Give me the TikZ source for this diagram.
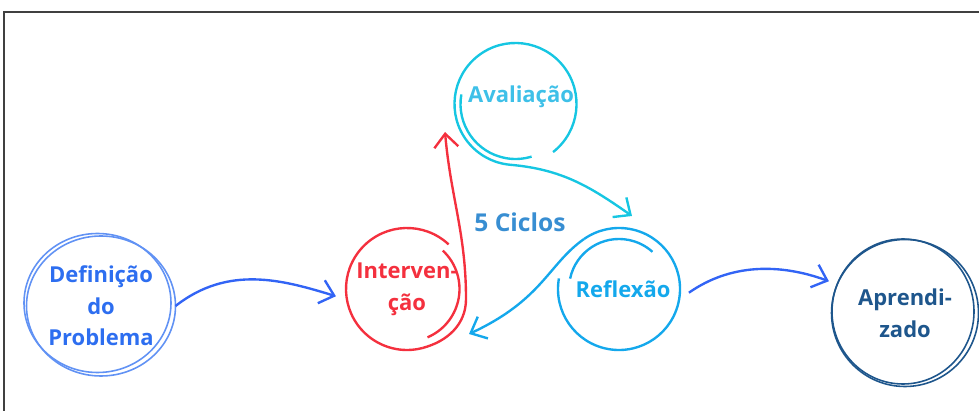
\documentclass[tikz,border=0pt]{standalone}
\usepackage{fontspec}
\setsansfont{Open Sans}
\usepackage{tikz}
\usetikzlibrary{positioning, arrows.meta, shapes.geometric}

\definecolor{azul}{RGB}{45,110,240}
\definecolor{azulseta}{RGB}{50,100,245}
\definecolor{vermelho}{RGB}{244,48,62}
\definecolor{ciano}{RGB}{22,198,226}
\definecolor{cianotexto}{RGB}{62,192,232}
\definecolor{celeste}{RGB}{20,168,236}
\definecolor{azulciclos}{RGB}{56,142,210}
\definecolor{azulescuro}{RGB}{30,86,140}

\begin{document}
\begin{tikzpicture}[
			on grid,
			line width=1.35pt,
			etapa/.style = {circle, minimum size=2.44cm, inner sep=0pt, outer sep=0pt, align=center,
				font=\sffamily\bfseries\fontsize{12.5}{18}\selectfont},
			seta/.style = {-{Straight Barb[length=2.7mm, width=4.8mm]}, line width=1.35pt},
			moldura/.style = {draw=black!75, line width=1.4pt}
		]
		\useasboundingbox (0,0) rectangle (19.58,8.2);
		\draw[moldura] (0.08,-0.5) -- (0.08,7.96) -- (20,7.96);
		\node[etapa, ellipse, draw=azul!75, line width=0.9pt, minimum width=2.96cm, minimum height=2.8cm, text=azul] (def) at (2.02,2.08) {Definição\\do\\Problema};
		\node[etapa, text=vermelho] (int) [above right=3.4mm and 61.2mm of def] {Interven-\\ção};
		\node[etapa, text=cianotexto] (ava) [above right=37mm and 21.7mm of int] {\raisebox{4mm}{\hspace{2.2mm}Avaliação}};
		\node[etapa, text=celeste] (ref) [right=42.4mm of int] {\hspace{1.6mm}Reflexão};
		\node[etapa, minimum size=2.94cm, draw=azulescuro, line width=0.9pt, text=azulescuro] (apr) [below right=4.8mm and 57.2mm of ref] {Aprendi-\\zado};
		\node[font=\sffamily\bfseries\fontsize{14}{16}\selectfont, text=azulciclos] (ciclos) [above right=13.4mm and 22.6mm of int] {5 Ciclos};
		% Draw the second strokes of the outer circles.
		\draw[azul!75, line width=0.9pt] ([shift={(-0.07,0.06)}]def.center) ellipse [x radius=1.47cm, y radius=1.39cm];
		\draw[azulescuro, line width=0.9pt] ([shift={(-0.04,0.03)}]apr.center) ellipse [x radius=1.42cm, y radius=1.45cm];
		% Draw the spirals of the cycle.
		\draw[vermelho] (int.47) arc [start angle=47, end angle=285, radius=1.22cm];
		\draw[vermelho] ([shift={(47:1.05cm)}]int.center) arc [start angle=47, end angle=-67, radius=1.05cm];
		\draw[ciano] (ava.-52) arc [start angle=-52, end angle=265, radius=1.22cm];
		\draw[ciano] ([shift={(170:1.1cm)}]ava.center) arc [start angle=170, end angle=287, radius=1.1cm];
		\draw[celeste] (ref.170) arc [start angle=170, end angle=485, radius=1.22cm];
		\draw[celeste] ([shift={(168:1cm)}]ref.center) arc [start angle=168, end angle=48, radius=1cm];
		% Draw the arrows.
		\draw[seta, azulseta, shorten >=2.3mm] (def.east) to [out=38, in=163] (int.190);
		\draw[seta, vermelho] (int.285) to [out=15, in=-90] ([shift={(1.18,-0.2)}]int.center) to [out=90, in=-85] ([shift={(-1.41,-0.56)}]ava.center);
		\draw[seta, ciano] (ava.265) to [out=-5, in=145] ([shift={(0.26,1.46)}]ref.center);
		\draw[seta, celeste] (ref.125) to [out=215, in=25, out looseness=0.75, in looseness=1.4] ([shift={(1.24,-0.90)}]int.center);
		\draw[seta, azulseta, shorten <=2.4mm, shorten >=1.8mm] (ref.-10) to [out=35, in=160] (apr.157);
	\end{tikzpicture}
\end{document}
